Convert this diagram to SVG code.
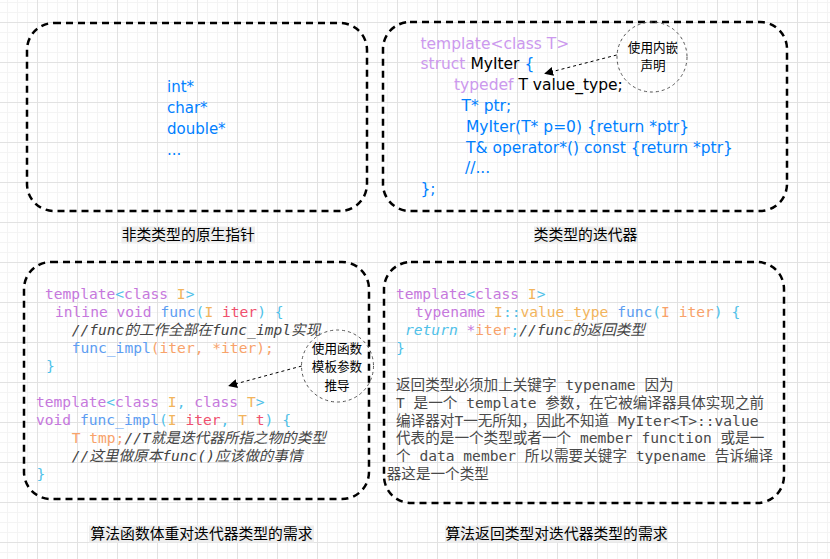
<svg xmlns="http://www.w3.org/2000/svg" width="830" height="559" viewBox="0 0 830 559">
<style>
.box{fill:none;stroke:#000;stroke-width:2.5;stroke-dasharray:7 5}
.circ{fill:none;stroke:#555;stroke-width:1;stroke-dasharray:3 3}
.conn{fill:none;stroke:#000;stroke-width:1;stroke-dasharray:3 3}
.sans{font-family:"DejaVu Sans","Noto Sans CJK SC",sans-serif;font-size:15.5px}
.ptr{font-family:"DejaVu Sans",sans-serif;font-size:15px;fill:#007FFF}
.mono{font-family:"DejaVu Sans Mono","Noto Sans CJK SC",monospace;font-size:14.6px}
.lbl{font-family:"Noto Sans CJK SC","Liberation Sans",sans-serif;font-size:14.8px;fill:#000}
.note{font-family:"Noto Sans CJK SC","Liberation Sans",sans-serif;font-size:12.6px;fill:#000;text-anchor:middle}
.lblbg{fill:#eeeeee}
.pu{fill:#C678DD}.cy{fill:#4FC1E9}.bl{fill:#5C9DF2}.ye{fill:#F2B45C}.rd{fill:#F0506E}.or{fill:#F8A26A}
.cm{fill:#444;font-style:italic}
.lp{fill:#CC99EE}.db{fill:#007FFF}.bk{fill:#000}
.par{fill:#4a4a4a}
</style>
<defs>
<pattern id="grid" patternUnits="userSpaceOnUse" x="-3" y="-18" width="40" height="40">
<rect width="40" height="40" fill="#ffffff"/>
<path d="M10.5 0V40M20.5 0V40M30.5 0V40M0 10.5H40M0 20.5H40M0 30.5H40" stroke="#f4f4f4" stroke-width="1"/>
<path d="M0.5 0V40M0 0.5H40" stroke="#e2e2e2" stroke-width="1"/>
</pattern>
<marker id="arr" viewBox="0 0 10 10" refX="9" refY="5" markerWidth="9" markerHeight="9" markerUnits="userSpaceOnUse" orient="auto">
<path d="M0 0L10 5L0 10z" fill="#000"/>
</marker>
</defs>
<rect width="830" height="559" fill="url(#grid)"/>

<g id="node-raw-pointer">
<rect class="box" x="27" y="23" width="340" height="188" rx="27"/>
<text class="ptr" x="167" y="91.5">int*</text>
<text class="ptr" x="167" y="112.5">char*</text>
<text class="ptr" x="167" y="133.5">double*</text>
<text class="ptr" x="167" y="154.5">...</text>
</g>

<g id="label-raw-pointer">
<rect class="lblbg" x="121.5" y="226.5" width="133.5" height="17"/>
<text class="lbl" x="188.3" y="240" text-anchor="middle">非类类型的原生指针</text>
</g>

<g id="node-class-iter">
<rect class="box" x="383" y="22" width="404" height="189" rx="27"/>
<text class="sans lp" x="420.5" y="48.5">template&lt;class T&gt;</text>
<text class="sans" x="420.5" y="69.3"><tspan class="lp">struct</tspan><tspan class="bk"> MyIter </tspan><tspan class="db">{</tspan></text>
<text class="sans" x="454" y="90.1"><tspan class="lp">typedef</tspan><tspan class="bk"> T value_type;</tspan></text>
<text class="sans db" x="461.5" y="110.9">T* ptr;</text>
<text class="sans db" x="466" y="131.7">MyIter(T* p=0) {return *ptr}</text>
<text class="sans db" x="466" y="152.5">T&amp; operator*() const {return *ptr}</text>
<text class="sans db" x="465" y="173.3">//...</text>
<text class="sans db" x="420.5" y="194.1">};</text>
</g>

<g id="label-class-iter">
<rect class="lblbg" x="534" y="226.5" width="103" height="17"/>
<text class="lbl" x="585.5" y="240" text-anchor="middle">类类型的迭代器</text>
</g>

<g id="note-nested">
<circle class="circ" cx="652" cy="57" r="35"/>
<text class="note" x="653" y="51.5">使用内嵌<tspan x="653" dy="18.6">声明</tspan></text>
</g>

<g id="node-func-body">
<rect class="box" x="24" y="262" width="345" height="237" rx="27"/>
<text class="mono" x="45" y="299" xml:space="preserve"><tspan class="pu">template</tspan><tspan class="cy">&lt;</tspan><tspan class="pu">class</tspan> <tspan class="ye">I</tspan><tspan class="cy">&gt;</tspan></text>
<text class="mono" x="55" y="317" xml:space="preserve"><tspan class="pu">inline void</tspan> <tspan class="bl">func</tspan><tspan class="cy">(</tspan><tspan class="ye">I</tspan> <tspan class="rd">iter</tspan><tspan class="cy">)</tspan> <tspan class="cy">{</tspan></text>
<text class="mono cm" x="71.7" y="335">//func的工作全部在func_impl实现</text>
<text class="mono" x="71.7" y="353"><tspan class="bl">func_impl</tspan><tspan class="or">(iter, *iter);</tspan></text>
<text class="mono cy" x="46" y="371">}</text>
<text class="mono" x="36" y="407" xml:space="preserve"><tspan class="pu">template</tspan><tspan class="cy">&lt;</tspan><tspan class="pu">class</tspan> <tspan class="ye">I</tspan><tspan class="cy">,</tspan> <tspan class="pu">class</tspan> <tspan class="ye">T</tspan><tspan class="cy">&gt;</tspan></text>
<text class="mono" x="36" y="425" xml:space="preserve"><tspan class="pu">void</tspan> <tspan class="bl">func_impl</tspan><tspan class="cy">(</tspan><tspan class="ye">I</tspan> <tspan class="rd">iter</tspan><tspan class="cy">,</tspan> <tspan class="ye">T</tspan> <tspan class="rd">t</tspan><tspan class="cy">)</tspan> <tspan class="cy">{</tspan></text>
<text class="mono" x="71.7" y="443"><tspan class="or">T tmp;</tspan><tspan class="cm">//T就是迭代器所指之物的类型</tspan></text>
<text class="mono cm" x="71.7" y="461">//这里做原本func()应该做的事情</text>
<text class="mono cy" x="36.5" y="479">}</text>
</g>

<g id="label-func-body">
<rect class="lblbg" x="89" y="525.5" width="225" height="17"/>
<text class="lbl" x="201.5" y="539" text-anchor="middle">算法函数体重对迭代器类型的需求</text>
</g>

<g id="note-deduce">
<circle class="circ" cx="337.5" cy="366" r="36"/>
<text class="note" x="337" y="352.5">使用函数<tspan x="337" dy="18.6">模板参数</tspan><tspan x="337" dy="18.6">推导</tspan></text>
</g>

<g id="node-return-type">
<rect class="box" x="384" y="262" width="400" height="241" rx="27"/>
<text class="mono" x="396" y="299" xml:space="preserve"><tspan class="pu">template</tspan><tspan class="cy">&lt;</tspan><tspan class="pu">class</tspan> <tspan class="ye">I</tspan><tspan class="cy">&gt;</tspan></text>
<text class="mono" x="415" y="317" xml:space="preserve"><tspan class="pu">typename</tspan> <tspan class="ye">I</tspan><tspan class="cy">::</tspan><tspan class="ye">value_type</tspan> <tspan class="bl">func</tspan><tspan class="cy">(</tspan><tspan class="or">I iter</tspan><tspan class="cy">)</tspan> <tspan class="cy">{</tspan></text>
<text class="mono" x="405" y="335" xml:space="preserve"><tspan class="cy" font-style="italic">return</tspan> <tspan class="pu">*</tspan><tspan class="or">iter</tspan><tspan class="cy">;</tspan><tspan class="cm">//func的返回类型</tspan></text>
<text class="mono cy" x="396" y="353">}</text>
<text class="mono par" x="396" y="390" xml:space="preserve">返回类型必须加上关键字 typename 因为</text>
<text class="mono par" x="396" y="407.8" xml:space="preserve">T 是一个 template 参数，在它被编译器具体实现之前</text>
<text class="mono par" x="396" y="425.6" xml:space="preserve">编译器对T一无所知，因此不知道 MyIter&lt;T&gt;::value</text>
<text class="mono par" x="396" y="443.4" xml:space="preserve">代表的是一个类型或者一个 member function 或是一</text>
<text class="mono par" x="396" y="461.2" xml:space="preserve">个 data member 所以需要关键字 typename 告诉编译</text>
<text class="mono par" x="386.7" y="479">器这是一个类型</text>
</g>

<g id="label-return-type">
<rect class="lblbg" x="445" y="525.5" width="223" height="17"/>
<text class="lbl" x="556.5" y="539" text-anchor="middle">算法返回类型对迭代器类型的需求</text>
</g>

<g id="connectors">
<path class="conn" d="M616.7 55L545 73.5" marker-end="url(#arr)"/>
<path class="conn" d="M301.7 366L229 385.7" marker-end="url(#arr)"/>
</g>
</svg>
